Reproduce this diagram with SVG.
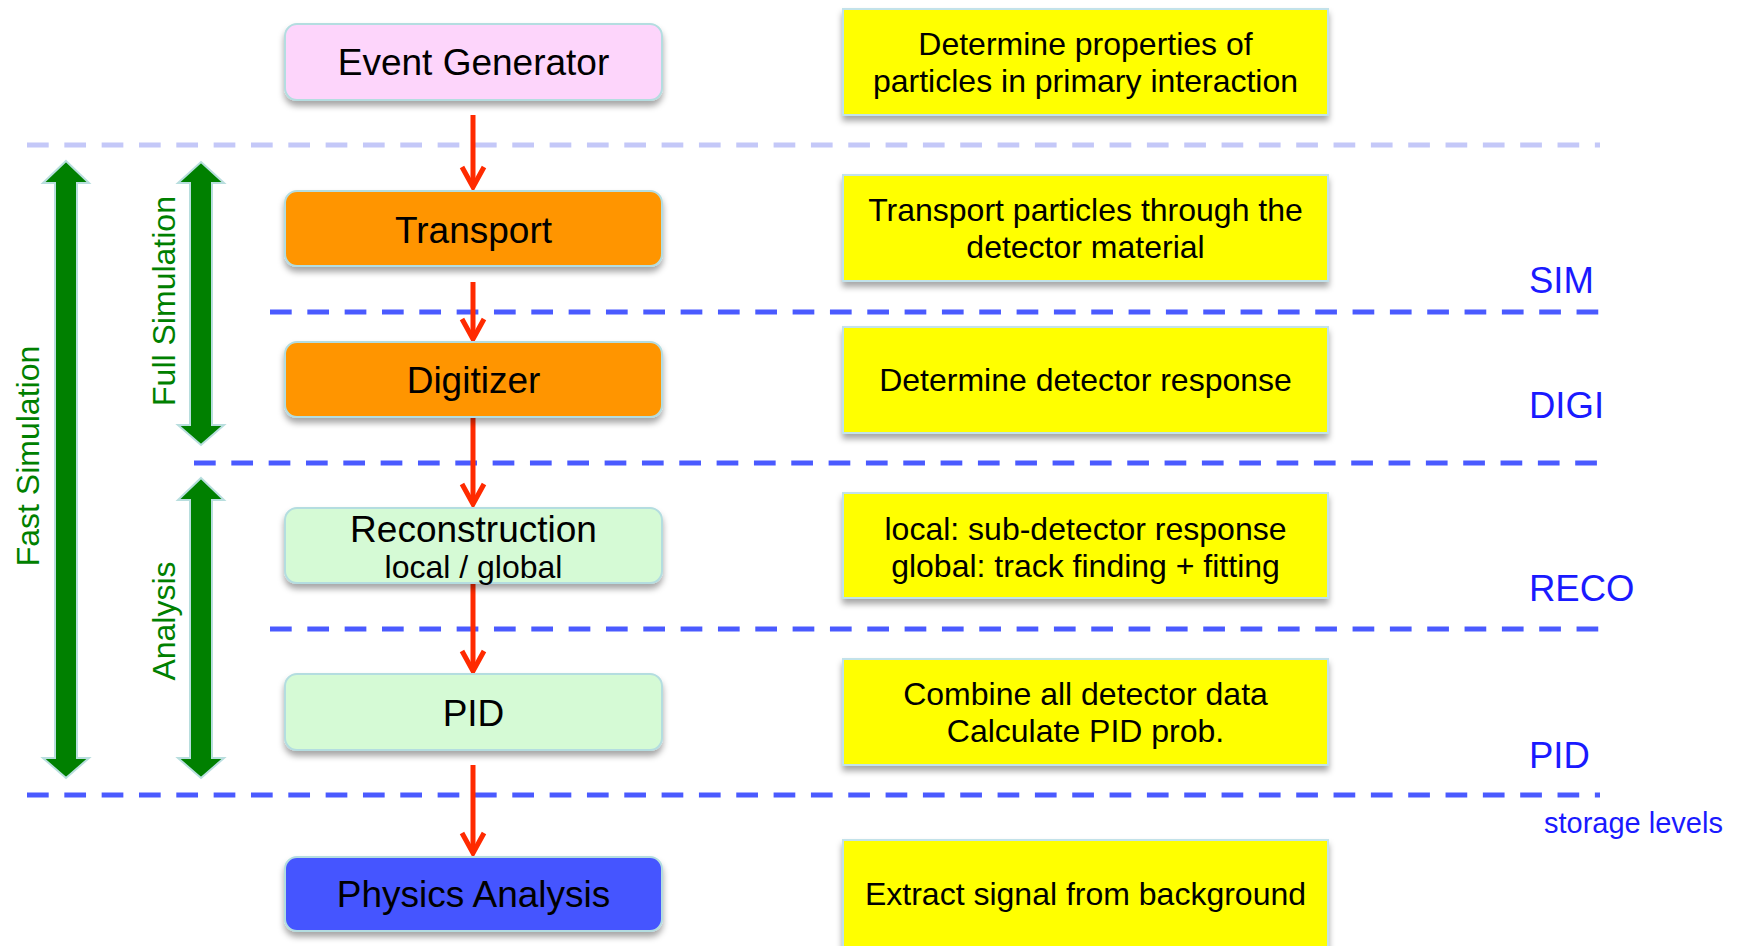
<svg xmlns="http://www.w3.org/2000/svg" width="1741" height="946" viewBox="0 0 1741 946">
<defs>
<style>
text{font-family:"Liberation Sans",Arial,sans-serif;}
.node rect{stroke:#b4dde0;stroke-width:2;filter:url(#sh);}
.lbl{font-size:37px;fill:#000;text-anchor:middle;}
.desc rect{fill:#ffff00;stroke:#c2e2ea;stroke-width:2;filter:url(#sh);}
.dtxt{font-size:32px;fill:#000;text-anchor:middle;}
.lvl{stroke:#4a5aff;stroke-width:5;stroke-dasharray:21.7 15.63;fill:none;}
.lvl0{stroke:#c4c8f8;stroke-width:5;stroke-dasharray:21.7 15.63;fill:none;}
.red{stroke:#ff2a00;stroke-width:5;fill:none;marker-end:url(#chev);}
.garr{fill:#008000;stroke:#b8dede;stroke-width:2;}
.gtxt{font-size:32px;fill:#008000;text-anchor:middle;}
.stag{font-size:36.5px;fill:#1a1aff;}
</style>
<filter id="sh" x="-10%" y="-20%" width="120%" height="150%">
<feDropShadow dx="0" dy="5" stdDeviation="3" flood-color="#000" flood-opacity="0.35"/>
</filter>
<marker id="chev" markerUnits="userSpaceOnUse" viewBox="-26 -14 30 28" refX="0" refY="0" markerWidth="30" markerHeight="28" orient="auto" overflow="visible">
<path d="M-20,-11 L0,0 L-20,11" fill="none" stroke="#ff2a00" stroke-width="5" stroke-linejoin="miter"/>
</marker>
</defs>
<rect x="0" y="0" width="1741" height="946" fill="#ffffff"/>

<g id="levels">
<line class="lvl0" x1="27" y1="145" x2="1600" y2="145"/>
<line class="lvl" x1="270" y1="312" x2="1600" y2="312"/>
<line class="lvl" x1="194" y1="463" x2="1600" y2="463"/>
<line class="lvl" x1="270" y1="629" x2="1600" y2="629"/>
<line class="lvl" x1="27" y1="795" x2="1600" y2="795"/>
</g>

<g id="ranges">
<g id="fast-sim">
<polygon class="garr" points="66,161 89,183 77,183 77,758 89,758 66,778 43,758 55,758 55,183 43,183"/>
<text class="gtxt" transform="translate(39,456) rotate(-90)">Fast Simulation</text>
</g>
<g id="full-sim">
<polygon class="garr" points="201,162 224,183 212,183 212,425 224,425 201,445 178,425 190,425 190,183 178,183"/>
<text class="gtxt" transform="translate(175,301) rotate(-90)">Full Simulation</text>
</g>
<g id="analysis">
<polygon class="garr" points="201,478 224,500 212,500 212,758 224,758 201,778 178,758 190,758 190,500 178,500"/>
<text class="gtxt" transform="translate(175,621) rotate(-90)">Analysis</text>
</g>
</g>

<g id="connectors">
<line class="red" x1="473" y1="115" x2="473" y2="187"/>
<line class="red" x1="473" y1="282" x2="473" y2="339"/>
<line class="red" x1="473" y1="417" x2="473" y2="504"/>
<line class="red" x1="473" y1="583" x2="473" y2="671"/>
<line class="red" x1="473" y1="765" x2="473" y2="853"/>
</g>

<g id="event-generator" class="node">
<rect x="285" y="24" width="377" height="76" rx="12" fill="#fdd5fb"/>
<text class="lbl" x="473.5" y="75">Event Generator</text>
</g>
<g id="transport" class="node">
<rect x="285" y="191" width="377" height="75" rx="12" fill="#ff9500"/>
<text class="lbl" x="473.5" y="243">Transport</text>
</g>
<g id="digitizer" class="node">
<rect x="285" y="342" width="377" height="75" rx="12" fill="#ff9500"/>
<text class="lbl" x="473.5" y="393">Digitizer</text>
</g>
<g id="reconstruction" class="node">
<rect x="285" y="508" width="377" height="75" rx="12" fill="#d5fad5"/>
<text class="lbl" x="473.5" y="542">Reconstruction</text>
<text class="lbl" x="473.5" y="578" style="font-size:32px">local / global</text>
</g>
<g id="pid" class="node">
<rect x="285" y="674" width="377" height="76" rx="12" fill="#d5fad5"/>
<text class="lbl" x="473.5" y="726">PID</text>
</g>
<g id="physics-analysis" class="node">
<rect x="285" y="857" width="377" height="74" rx="12" fill="#4455ff"/>
<text class="lbl" x="473.5" y="907">Physics Analysis</text>
</g>

<g id="desc-event" class="desc">
<rect x="843" y="9" width="485" height="106"/>
<text class="dtxt" x="1085.5" y="55">Determine properties of</text>
<text class="dtxt" x="1085.5" y="92">particles in primary interaction</text>
</g>
<g id="desc-transport" class="desc">
<rect x="843" y="175" width="485" height="106"/>
<text class="dtxt" x="1085.5" y="221">Transport particles through the</text>
<text class="dtxt" x="1085.5" y="258">detector material</text>
</g>
<g id="desc-digitizer" class="desc">
<rect x="843" y="327" width="485" height="106"/>
<text class="dtxt" x="1085.5" y="391">Determine detector response</text>
</g>
<g id="desc-reco" class="desc">
<rect x="843" y="493" width="485" height="105"/>
<text class="dtxt" x="1085.5" y="540">local: sub-detector response</text>
<text class="dtxt" x="1085.5" y="577">global: track finding + fitting</text>
</g>
<g id="desc-pid" class="desc">
<rect x="843" y="659" width="485" height="106"/>
<text class="dtxt" x="1085.5" y="705">Combine all detector data</text>
<text class="dtxt" x="1085.5" y="742">Calculate PID prob.</text>
</g>
<g id="desc-physics" class="desc">
<rect x="843" y="840" width="485" height="110"/>
<text class="dtxt" x="1085.5" y="905">Extract signal from background</text>
</g>

<g id="level-labels">
<text class="stag" x="1529" y="293">SIM</text>
<text class="stag" x="1529" y="418">DIGI</text>
<text class="stag" x="1529" y="601">RECO</text>
<text class="stag" x="1529" y="768">PID</text>
<text class="stag" x="1544" y="833" style="font-size:29px">storage levels</text>
</g>
</svg>
